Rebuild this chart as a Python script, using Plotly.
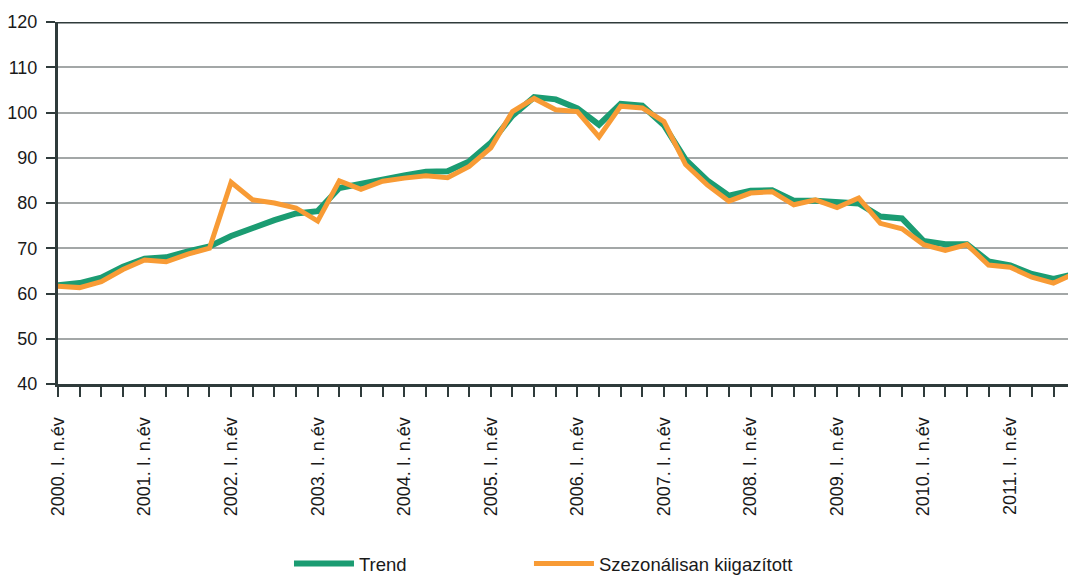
import plotly.graph_objects as go

years = list(range(2000, 2012))
quarters = ["I.", "II.", "III.", "IV."]
categories = [f"{y}. {q} n.év" for y in years for q in quarters]

trend = [61.8, 62.3, 63.5, 65.9, 67.7, 68.0, 69.3, 70.4,
         72.7, 74.5, 76.2, 77.7, 78.2, 83.3, 84.3, 85.2,
         86.1, 86.9, 87.0, 89.2, 93.3, 99.3, 103.4, 102.9,
         100.9, 97.3, 101.9, 101.5, 97.2, 89.6, 85.0, 81.6,
         82.7, 82.8, 80.5, 80.5, 80.1, 79.9, 77.0, 76.6,
         71.6, 70.9, 70.9, 67.1, 66.2, 64.3, 63.2, 64.3]

seasonal = [61.6, 61.3, 62.6, 65.3, 67.4, 67.0, 68.7, 70.0,
            84.6, 80.7, 80.0, 78.9, 76.0, 84.9, 83.0, 84.8,
            85.5, 86.0, 85.6, 88.1, 92.2, 100.2, 103.1, 100.6,
            100.2, 94.6, 101.4, 101.0, 98.0, 88.5, 84.0, 80.4,
            82.2, 82.5, 79.6, 80.7, 79.0, 81.1, 75.5, 74.3,
            70.8, 69.5, 70.8, 66.3, 65.8, 63.6, 62.3, 64.5]

y_ticks = [40, 50, 60, 70, 80, 90, 100, 110, 120]

idx = list(range(len(categories)))
tick_text = [c if i % 4 == 0 else "" for i, c in enumerate(categories)]

FONT = "Liberation Sans, Arial, sans-serif"
AXIS = "#2f3b3b"
TXT = "#1a1a1a"

fig = go.Figure()
fig.add_trace(go.Scatter(x=idx, y=trend, mode="lines", name="Trend",
                         line=dict(color="#1b9c72", width=6), legend="legend"))
fig.add_trace(go.Scatter(x=idx, y=seasonal, mode="lines", name="Szezonálisan kiigazított",
                         line=dict(color="#f89b35", width=5), legend="legend2"))

leg_common = dict(orientation="h", y=-0.497, xanchor="left", yanchor="middle",
                  itemwidth=60, font=dict(family=FONT, size=18.5, color=TXT),
                  bgcolor="rgba(0,0,0,0)")

fig.update_layout(
    width=1068, height=576, autosize=False,
    margin=dict(l=58, r=0, t=22, b=192, autoexpand=False),
    plot_bgcolor="white", paper_bgcolor="white",
    font=dict(family=FONT, size=18, color=TXT),
    showlegend=True,
    legend=dict(x=0.2287, **leg_common),
    legend2=dict(x=0.4663, **leg_common),
    xaxis=dict(range=[0, 46.67], tickmode="array", tickvals=idx, ticktext=tick_text,
               tickangle=-90, ticks="outside", ticklen=10, tickwidth=2, tickcolor=AXIS,
               showline=True, linecolor=AXIS, linewidth=3, showgrid=False, zeroline=False,
               automargin=False, ticklabelstandoff=13, tickfont=dict(size=18)),
    yaxis=dict(range=[40, 120], tickvals=y_ticks, ticks="outside", ticklen=9, tickwidth=2,
               tickcolor=AXIS, showline=True, linecolor=AXIS, linewidth=3,
               showgrid=True, gridcolor="#a3a7a7", gridwidth=2, zeroline=False,
               automargin=False, ticklabelstandoff=5, tickfont=dict(size=18)),
)
fig.add_shape(type="line", xref="paper", yref="y", x0=0, x1=1, y0=120, y1=120,
              line=dict(color=AXIS, width=3), layer="above")

post = ("document.body.style.margin='0';document.body.style.overflow='hidden';"
        "var gd=document.getElementById('{plot_id}');"
        "Plotly.relayout(gd,{width:1068,height:576});")
fig.write_html("out.html", config={"responsive": False, "displayModeBar": False},
               post_script=post)
